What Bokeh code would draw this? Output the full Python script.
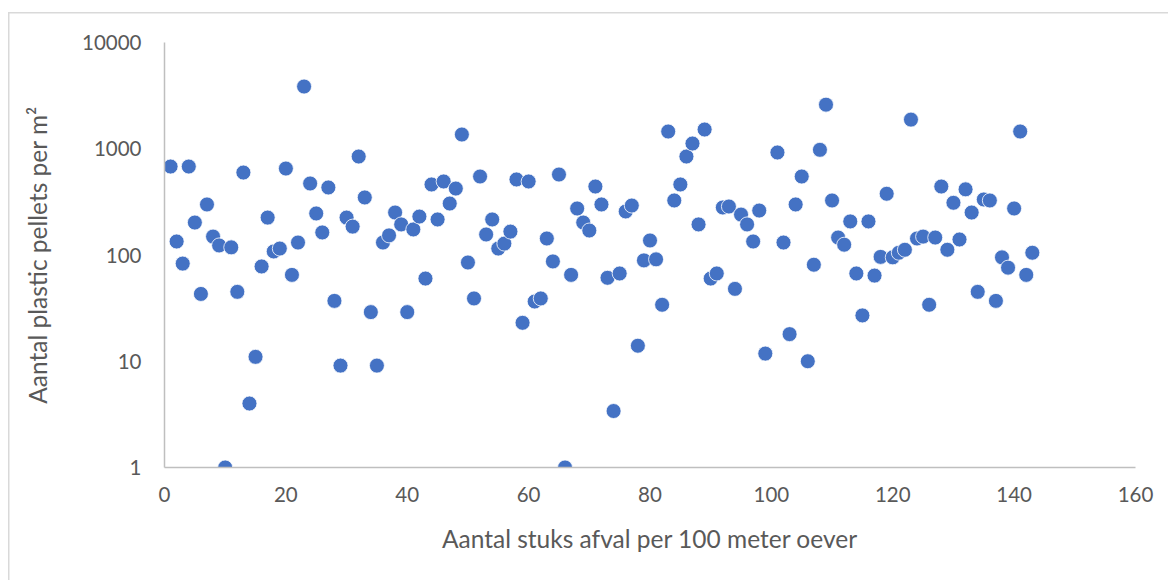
from bokeh.plotting import figure
from bokeh.models import Range1d, FixedTicker, CustomJSTickFormatter, ColumnDataSource
from bokeh.embed import file_html
from bokeh.resources import INLINE

afval = list(range(1, 100)) + list(range(101, 144))
pellets = [
    680, 134, 83, 680, 202, 43, 299, 149, 123, 1,
    118, 45, 597, 4, 11, 78, 225, 108, 115, 651,
    65, 131, 3850, 471, 246, 163, 432, 37, 9.1, 225,
    185, 845, 348, 29, 9.1, 131, 153, 251, 194, 29,
    174, 230, 60, 461, 216, 492, 305, 422, 1361, 85,
    39, 548, 156, 216, 115, 128, 166, 514, 23, 492,
    36.5, 39, 143, 87, 572, 1, 65, 274, 202, 170,
    441, 299, 61, 3.4, 67, 257, 292, 14, 89, 137,
    91, 34, 1453, 326, 461, 845, 1120, 194, 1517, 60,
    67, 280, 286, 48, 240, 194, 134, 262, 11.8,
    922, 131, 18, 299, 548, 10, 81, 977, 2600, 326,
    146, 125, 207, 67, 27, 207, 64, 96, 377, 95,
    105, 112, 1880, 143, 149, 34, 146, 441, 112, 310,
    140, 415, 251, 45, 333, 326, 37, 95, 76, 274,
    1453, 65, 105,
]
x_ticks = [0, 20, 40, 60, 80, 100, 120, 140, 160]
y_ticks = [1, 10, 100, 1000, 10000]

FONT = "Lato"
GREY = "#595959"

p = figure(width=1168, height=580, y_axis_type="log",
           x_range=Range1d(0, 160), y_range=Range1d(1, 10000),
           output_backend="svg", toolbar_location=None,
           min_border_left=164, min_border_right=33,
           min_border_top=42, min_border_bottom=113)

src = ColumnDataSource(dict(x=afval, y=pellets))
p.scatter("x", "y", source=src, size=15, fill_color="#4472C4",
          line_color="white", line_width=0.8)

p.xgrid.visible = False
p.ygrid.visible = False
p.outline_line_color = None
p.background_fill_color = "white"
p.border_fill_alpha = 0
p.styles = {
    "background": "linear-gradient(#d9d9d9, #d9d9d9) 8px 12px / 1.5px 100% no-repeat, "
                  "linear-gradient(#d9d9d9, #d9d9d9) 8px 12px / 100% 1.5px no-repeat, white",
}

for ax in (p.xaxis[0], p.yaxis[0]):
    ax.axis_line_color = "#bfbfbf"
    ax.axis_line_width = 1.5
    ax.major_tick_line_color = None
    ax.minor_tick_line_color = None
    ax.major_label_text_color = GREY
    ax.major_label_text_font = FONT
    ax.major_label_text_font_size = "20.5px"
    ax.axis_label_text_color = GREY
    ax.axis_label_text_font = FONT
    ax.axis_label_text_font_size = "24.5px"
    ax.axis_label_text_font_style = "normal"

p.xaxis.ticker = FixedTicker(ticks=x_ticks)
p.yaxis.ticker = FixedTicker(ticks=y_ticks)
p.yaxis.formatter = CustomJSTickFormatter(code="return tick.toFixed(0);")
p.xaxis.major_label_standoff = 13
p.yaxis.major_label_standoff = 17
p.xaxis.axis_label = "Aantal stuks afval per 100 meter oever"
p.yaxis.axis_label = "Aantal plastic pellets per m²"
p.xaxis.axis_label_standoff = 19
p.yaxis.axis_label_standoff = 27

open("out.html", "w").write(file_html(p, INLINE))
